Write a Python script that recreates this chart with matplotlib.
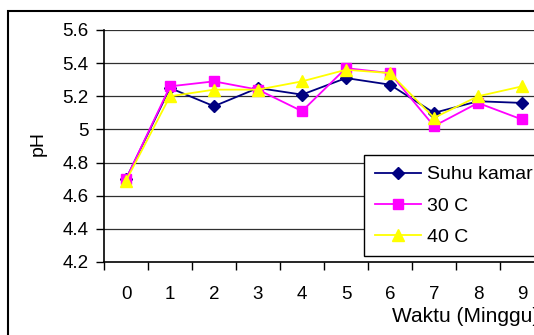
import numpy as np
import matplotlib.pyplot as plt
from matplotlib.patches import Rectangle

plt.rcParams['font.family'] = ['Liberation Sans', 'DejaVu Sans']

# pH measured every week for three storage temperatures
weeks = ['0', '1', '2', '3', '4', '5', '6', '7', '8', '9']
suhu_kamar = [4.70, 5.25, 5.14, 5.25, 5.21, 5.31, 5.27, 5.10, 5.17, 5.16]
c30 = [4.70, 5.26, 5.29, 5.24, 5.11, 5.37, 5.34, 5.02, 5.16, 5.06]
c40 = [4.69, 5.20, 5.24, 5.24, 5.29, 5.36, 5.34, 5.07, 5.20, 5.26]
y_ticks = [4.2, 4.4, 4.6, 4.8, 5.0, 5.2, 5.4, 5.6]
y_labels = ['4.2', '4.4', '4.6', '4.8', '5', '5.2', '5.4', '5.6']

fig = plt.figure(figsize=(5.34, 3.35), dpi=100)
# chart area border (runs off the right edge)
fig.patches.append(Rectangle((8 / 534, -0.1), 1.0, 1 - 11 / 335 + 0.1,
                             transform=fig.transFigure, fill=False,
                             edgecolor='black', linewidth=1.5))

ax = fig.add_axes([104 / 534, 73 / 335, 440 / 534, 232 / 335])
x = np.arange(len(weeks))

ax.plot(x, suhu_kamar, color='#000080', marker='D', markersize=6, linewidth=1.3,
        label='Suhu kamar', zorder=3)
ax.plot(x, c30, color='#FF00FF', marker='s', markersize=7, linewidth=1.3,
        label='30 C', zorder=3)
ax.plot(x, c40, color='#FFFF00', marker='^', markersize=8, linewidth=1.3,
        label='40 C', zorder=3)

ax.set_xlim(-0.5, len(weeks) - 0.5)
ax.set_ylim(4.2, 5.6)
ax.set_yticks(y_ticks)
ax.set_yticklabels(y_labels)
ax.set_xticks(x)
ax.set_xticklabels(weeks)
ax.set_xticks(np.arange(-0.5, len(weeks), 1.0), minor=True)
ax.tick_params(axis='x', which='major', length=0, pad=17, labelsize=13.5)
ax.tick_params(axis='x', which='minor', length=6, width=1, direction='out')
ax.tick_params(axis='y', length=6, width=1, direction='out', pad=5, labelsize=13.5)

for yv in y_ticks[1:]:
    ax.axhline(yv, color='#303030', linewidth=0.9, zorder=1)

for s in ['top', 'right']:
    ax.spines[s].set_visible(False)
ax.spines['left'].set_linewidth(1.2)
ax.spines['bottom'].set_linewidth(1.2)

fig.text(38 / 534, 1 - 143 / 335, 'pH', rotation=90, ha='center', va='center', fontsize=14)
fig.text(392 / 534, 1 - 317 / 335, 'Waktu (Minggu)', ha='left', va='center', fontsize=15)

leg = ax.legend(loc='upper left', bbox_to_anchor=(364 / 534, 1 - 155 / 335),
                bbox_transform=fig.transFigure, frameon=True, fancybox=False,
                edgecolor='black', framealpha=1, fontsize=14, handlelength=2.4,
                labelspacing=0.7, borderpad=0.55, borderaxespad=0,
                handletextpad=0.3)
leg.get_frame().set_linewidth(1.0)

fig.savefig('out.png', dpi=100)
